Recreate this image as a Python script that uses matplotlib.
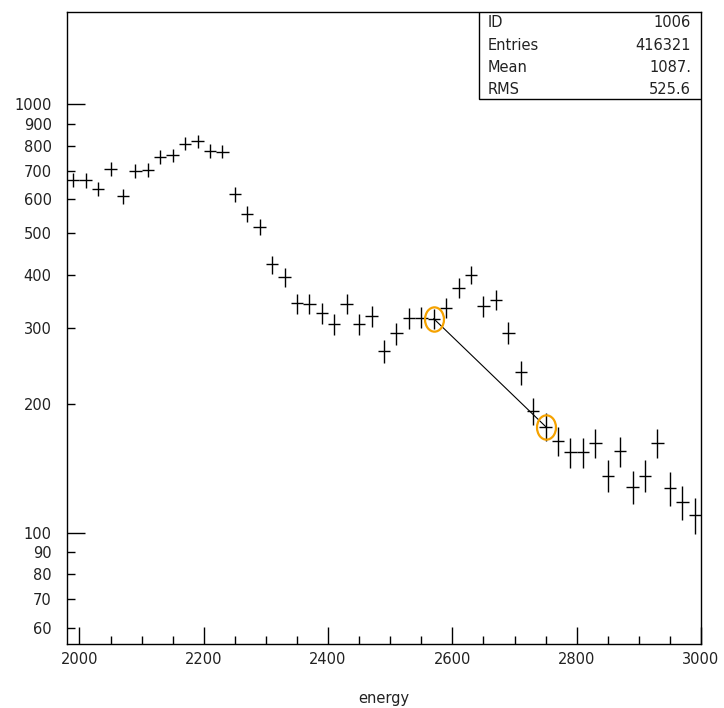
import numpy as np
import matplotlib
matplotlib.use("Agg")
from matplotlib import pyplot as plt
from matplotlib.path import Path
from matplotlib.transforms import Affine2D
from matplotlib.ticker import FixedLocator, FixedFormatter, NullFormatter

# histogram bin centres (bin width 20) and contents
energy = np.arange(1990, 3000, 20)
counts = [667, 665, 635, 707, 611, 699, 704, 753, 760, 809,
          821, 779, 776, 618, 555, 517, 423, 395, 343, 342,
          325, 307, 342, 307, 320, 265, 292, 317, 318, 316,
          335, 373, 400, 338, 350, 293, 237, 192, 177, 164,
          154, 154, 162, 136, 155, 128, 136, 162, 127, 118,
          110]
bin_width = 20

# the two marked bins, joined by a line
marked_x = [2570, 2750]
marked_y = [316, 177]

stat_names = ["ID", "Entries", "Mean", "RMS"]
stat_values = ["1006", "416321", "1087.", "525.6"]

x_major = [2000, 2200, 2400, 2600, 2800, 3000]
y_major = [100, 1000]
y_minor = [60, 70, 80, 90, 200, 300, 400, 500, 600, 700, 800, 900]

FS = 10.5

fig = plt.figure(figsize=(7.24, 7.08), dpi=100)
ax = fig.add_axes([67/724, 64/708, 634/724, 632/708])

counts = np.array(counts, dtype=float)
ax.errorbar(energy, counts, xerr=bin_width/2, yerr=np.sqrt(counts),
            fmt="none", ecolor="black", elinewidth=1.0, capsize=0)

ax.plot(marked_x, marked_y, color="black", lw=0.8)
circ = Path.unit_circle()
ell = circ.transformed(Affine2D().scale(0.78, 1.0))
ax.plot(marked_x, marked_y, ls="none", marker=ell, markersize=17.5,
        markerfacecolor="none", markeredgecolor="#f5a200", markeredgewidth=1.6)

ax.set_yscale("log")
ax.set_xlim(1980, 3000)
ax.set_ylim(55.0, 1643)

ax.xaxis.set_major_locator(FixedLocator(x_major))
ax.xaxis.set_minor_locator(FixedLocator(np.arange(2000, 3001, 50)))
ax.xaxis.set_minor_formatter(NullFormatter())
ax.set_xticklabels([str(v) for v in x_major])

ax.yaxis.set_major_locator(FixedLocator(y_major))
ax.yaxis.set_major_formatter(FixedFormatter([str(v) for v in y_major]))
ax.yaxis.set_minor_locator(FixedLocator(y_minor))
ax.yaxis.set_minor_formatter(FixedFormatter([str(v) for v in y_minor]))

ax.tick_params(axis="both", which="both", direction="in", top=False, right=False,
               labelsize=FS, labelcolor="#222222", width=1.0)
ax.tick_params(axis="y", which="major", length=13, pad=11)
ax.tick_params(axis="y", which="minor", length=6, pad=11)
ax.tick_params(axis="x", which="major", length=12, pad=6)
ax.tick_params(axis="x", which="minor", length=6)

for s in ax.spines.values():
    s.set_linewidth(1.0)

ax.set_xlabel("energy", fontsize=FS, color="#222222")
ax.xaxis.set_label_coords(0.5, -(698 - 644) / 632)
ax.xaxis.label.set_va("center")

# statistics box
bx0 = (479 - 67) / 634
by0 = (644 - 99) / 632
ax.add_patch(plt.Rectangle((bx0, by0), 1 - bx0, 1 - by0, transform=ax.transAxes,
                           facecolor="white", edgecolor="black", lw=1.0, zorder=5))
rows_px = [22.7, 45, 67.7, 90]
for name, val, ypx in zip(stat_names, stat_values, rows_px):
    yy = (644 - ypx) / 632
    ax.text((488 - 67) / 634, yy, name, transform=ax.transAxes, fontsize=FS,
            va="center", ha="left", color="#222222", zorder=6)
    ax.text((691 - 67) / 634, yy, val, transform=ax.transAxes, fontsize=FS,
            va="center", ha="right", color="#222222", zorder=6)

fig.savefig("out.png", dpi=100)
